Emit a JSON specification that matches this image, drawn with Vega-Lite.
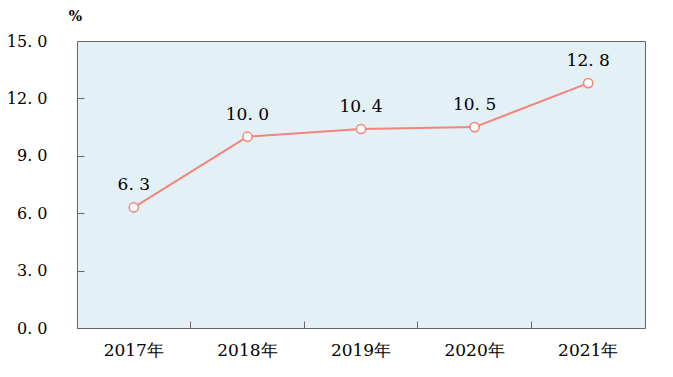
{
  "$schema": "https://vega.github.io/schema/vega-lite/v6.json",
  "width": 568,
  "height": 287,
  "autosize": {"type": "none"},
  "padding": {"left": 77, "top": 41, "right": 28, "bottom": 49},
  "background": "white",
  "config": {
    "view": {"fill": "#e3f1f6", "stroke": "#666666", "strokeWidth": 1},
    "font": "DejaVu Serif"
  },
  "data": {
    "values": [
      {"year": "2017年", "value": 6.3, "label": "6. 3"},
      {"year": "2018年", "value": 10.0, "label": "10. 0"},
      {"year": "2019年", "value": 10.4, "label": "10. 4"},
      {"year": "2020年", "value": 10.5, "label": "10. 5"},
      {"year": "2021年", "value": 12.8, "label": "12. 8"}
    ]
  },
  "encoding": {
    "x": {
      "field": "year", "type": "ordinal", "sort": null,
      "scale": {"type": "band", "paddingInner": 0, "paddingOuter": 0},
      "axis": {
        "title": null, "labelAngle": 0, "domain": false,
        "tickSize": -7, "tickColor": "#666666", "bandPosition": 0,
        "labelPadding": 21, "labelFontSize": 17, "labelColor": "#000000",
        "labelFont": "DejaVu Serif"
      }
    },
    "y": {
      "field": "value", "type": "quantitative",
      "scale": {"domain": [0, 15], "nice": false},
      "axis": {
        "values": [0, 3, 6, 9, 12, 15],
        "labelExpr": "replace(format(datum.value, '.1f'), '.', '. ')",
        "grid": false, "domain": false,
        "tickSize": -7, "tickColor": "#666666",
        "labelPadding": 37, "labelFontSize": 16, "labelColor": "#000000",
        "labelFont": "DejaVu Serif",
        "title": "%", "titleAngle": 0, "titleX": -2, "titleY": -18,
        "titleAlign": "center", "titleFontSize": 14, "titleFontWeight": "bold",
        "titleColor": "#000000", "titleFont": "DejaVu Serif"
      }
    }
  },
  "layer": [
    {
      "mark": {"type": "line", "color": "#f4837a", "strokeWidth": 2}
    },
    {
      "mark": {"type": "point", "shape": "circle", "filled": true, "fill": "white", "stroke": "#f4837a", "strokeWidth": 1.5, "size": 85, "opacity": 1}
    },
    {
      "mark": {"type": "text", "dy": -22, "fontSize": 17, "color": "#000000", "font": "DejaVu Serif", "baseline": "middle"},
      "encoding": {"text": {"field": "label"}}
    }
  ]
}
